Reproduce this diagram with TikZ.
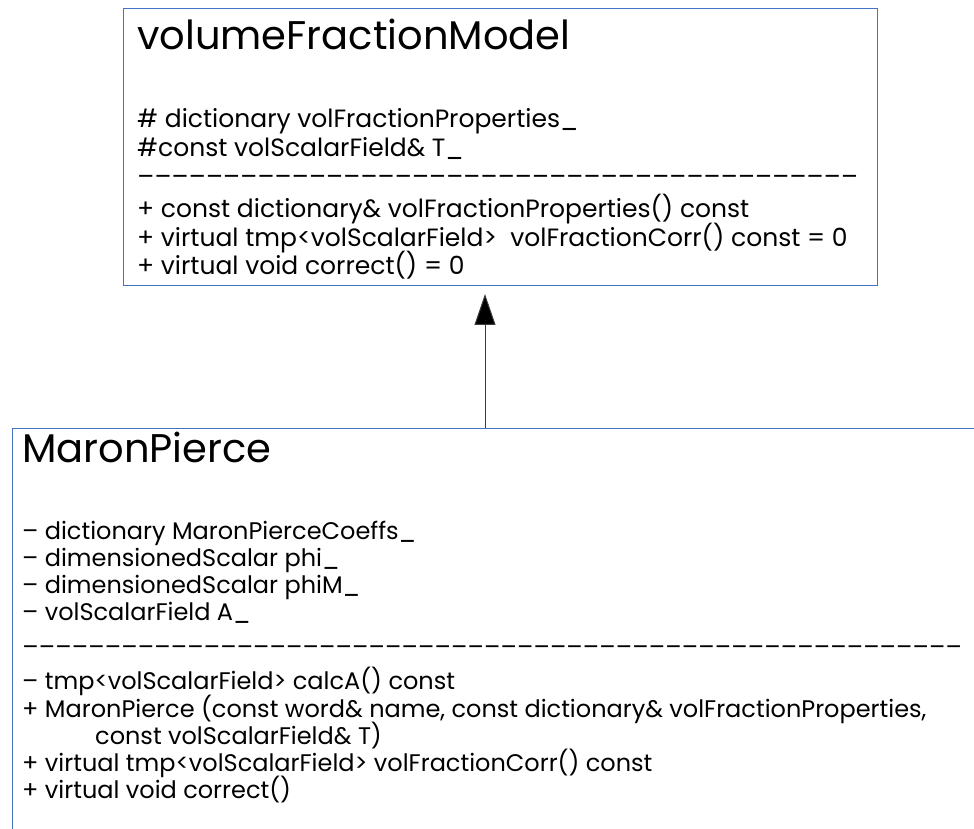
\documentclass[tikz,border=0pt]{standalone}
\usepackage{fontspec}
\setmainfont{Poppins}
\usetikzlibrary{arrows.meta,positioning}

\definecolor{boxblue}{RGB}{68,114,196}
\definecolor{linkgray}{RGB}{60,60,60}

% row of dashes stretched over a given width
\newcommand{\dashrow}[1]{\hbox to #1{\xleaders\hbox{–}\hfill}}

\tikzset{
  classbox/.style = {draw = boxblue, line width = 1pt, rectangle, anchor = north west, inner sep = 0pt},
  classname/.style = {anchor = base west, inner sep = 0pt, font = \fontsize{40}{44}\selectfont},
  topmember/.style = {anchor = base west, inner sep = 0pt, font = \fontsize{25}{29}\selectfont},
  member/.style = {anchor = base west, inner sep = 0pt, font = \fontsize{24}{28}\selectfont},
  inherits/.style = {draw = linkgray, line width = 1pt, -{Triangle[length = 31pt, width = 21pt, fill = black]}, shorten > = 8pt}
}

\begin{document}
\begin{tikzpicture}[x = 1pt, y = 1pt]
        \clip (0,0) rectangle (974,829);
        \fill[white] (0,0) rectangle (974,829);

        % base class
        \node[classbox, minimum width = 754pt, minimum height = 277pt] (volModel) at (123,821) {};
        \node[classname] (volName) at (137,779) {volumeFractionModel};
        \node[topmember] (volAttrA) at (137,701) {\# dictionary volFractionProperties\_};
        \node[topmember] (volAttrB) at (137,672) {\#const volScalarField\& T\_};
        \node[topmember] (volSep) at (137,643.5) {\dashrow{721pt}};
        \node[topmember] (volOpA) at (137,611) {+ const dictionary\& volFractionProperties() const};
        \node[topmember] (volOpB) at (137,582) {+ virtual tmp<volScalarField>\ \ volFractionCorr() const = 0};
        \node[topmember] (volOpC) at (137,554) {+ virtual void correct() = 0};

        % derived class
        \node[classbox, minimum width = 1000pt, minimum height = 450pt] (maron) at (11.5,401) {};
        \node[classname] (maronName) at (22,366) {MaronPierce};
        \node[member] (maronAttrA) at (22,289) {– dictionary MaronPierceCoeffs\_};
        \node[member] (maronAttrB) at (22,262) {– dimensionedScalar phi\_};
        \node[member] (maronAttrC) at (22,235) {– dimensionedScalar phiM\_};
        \node[member] (maronAttrD) at (22,208) {– volScalarField A\_};
        \node[member] (maronSep) at (22,173) {\dashrow{940pt}};
        \node[member] (maronOpA) at (22,139) {– tmp<volScalarField> calcA() const};
        \node[member] (maronOpB) at (22,111) {+ MaronPierce (const word\& name, const dictionary\& volFractionProperties,};
        \node[member] (maronOpBb) at (95,84) {const volScalarField\& T)};
        \node[member] (maronOpC) at (22,57) {+ virtual tmp<volScalarField> volFractionCorr() const};
        \node[member] (maronOpD) at (22,30) {+ virtual void correct()};

        % inheritance arrow
        \coordinate (inhFoot) at (485,401);
        \draw[inherits] (inhFoot) -- (inhFoot |- volModel.south);
    \end{tikzpicture}
\end{document}
